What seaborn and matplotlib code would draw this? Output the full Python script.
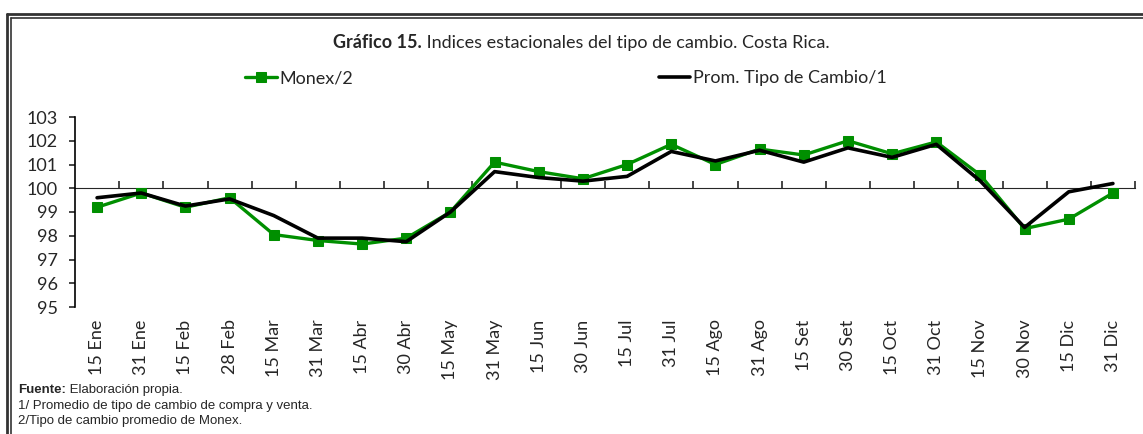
import matplotlib
matplotlib.use("Agg")
import matplotlib.pyplot as plt
from matplotlib.lines import Line2D
import numpy as np
import pandas as pd
import seaborn as sns

fechas = ["15 Ene", "31 Ene", "15 Feb", "28 Feb", "15 Mar", "31 Mar", "15 Abr", "30 Abr",
          "15 May", "31 May", "15 Jun", "30 Jun", "15 Jul", "31 Jul", "15 Ago", "31 Ago",
          "15 Set", "30 Set", "15 Oct", "31 Oct", "15 Nov", "30 Nov", "15 Dic", "31 Dic"]
monex = [99.2, 99.8, 99.2, 99.6, 98.05, 97.8, 97.65, 97.9, 99.0, 101.1, 100.7, 100.4,
         101.0, 101.85, 101.0, 101.65, 101.4, 102.0, 101.45, 101.95, 100.55, 98.3, 98.7, 99.8]
prom_tc = [99.6, 99.8, 99.25, 99.55, 98.85, 97.9, 97.9, 97.75, 99.0, 100.7, 100.45, 100.3,
           100.5, 101.55, 101.15, 101.6, 101.1, 101.7, 101.3, 101.85, 100.3, 98.35, 99.85, 100.2]
yticks = [95, 96, 97, 98, 99, 100, 101, 102, 103]

verde = "#008f00"

df = pd.DataFrame({"pos": np.arange(len(fechas)), "fecha": fechas,
                   "Monex/2": monex, "Prom. Tipo de Cambio/1": prom_tc})

sns.set_style("white")
plt.rcParams["font.family"] = ["Lato", "DejaVu Sans"]

fig = plt.figure(figsize=(11.43, 4.34), dpi=100)
W, H = 1143, 434
ax = fig.add_axes([75 / W, 1 - 307 / H, (1135 - 75) / W, (307 - 117) / H])

sns.lineplot(data=df, x="pos", y="Monex/2", ax=ax, color=verde, lw=2.4,
             marker="s", markersize=7, markeredgecolor=verde, label="Monex/2")
sns.lineplot(data=df, x="pos", y="Prom. Tipo de Cambio/1", ax=ax, color="black", lw=2.6,
             label="Prom. Tipo de Cambio/1")

ax.set_xlim(-0.5, len(fechas) - 0.5)
ax.set_ylim(yticks[0], yticks[-1])
ax.set_yticks(yticks)
ax.set_xticks(df["pos"])
ax.set_xticklabels(fechas, rotation=90, fontsize=13)
ax.tick_params(axis="x", length=0, pad=9)
ax.tick_params(axis="y", direction="out", length=4.5, width=1.2, left=True, labelsize=13, pad=8)
ax.set_xlabel("")
ax.set_ylabel("")
for s in ["top", "right", "bottom"]:
    ax.spines[s].set_visible(False)
ax.spines["left"].set_linewidth(1.2)
ax.spines["left"].set_color("black")

# linea de 100 con marcas entre categorias
sec = ax.secondary_xaxis((100 - yticks[0]) / (yticks[-1] - yticks[0]))
sec.set_xticks(np.arange(len(fechas)) + 0.5)
sec.set_xticklabels([])
sec.tick_params(direction="out", length=5, width=1.2)
sec.spines["bottom"].set_linewidth(1.5)
sec.spines["bottom"].set_color("#222222")
ax.set_zorder(2)

ax.get_legend().remove()
h, l = ax.get_legend_handles_labels()
fig.legend(h, l, loc="center", bbox_to_anchor=(566 / W, 1 - 78 / H), ncol=2, frameon=False,
           fontsize=13, handlelength=1.75, handletextpad=0.15, columnspacing=16.9)

t1 = fig.text(333 / W, 1 - 43 / H, "Gráfico 15.", fontsize=13, fontweight="bold", va="center")
ax.annotate(" Indices estacionales del tipo de cambio. Costa Rica.", xy=(1, 0.5),
            xycoords=t1, va="center", fontsize=13, annotation_clip=False)

nota = dict(fontsize=9.5, family=["Liberation Sans", "DejaVu Sans"], va="center")
f1 = fig.text(18 / W, 1 - 390 / H, "Fuente:", fontweight="bold", **nota)
ax.annotate(" Elaboración propia.", xy=(1, 0.5), xycoords=f1, annotation_clip=False, **nota)
fig.text(18 / W, 1 - 406 / H, "1/ Promedio de tipo de cambio de compra y venta.", **nota)
fig.text(18 / W, 1 - 421 / H, "2/Tipo de cambio promedio de Monex.", **nota)

# marco doble
for off, lw in [(0, 2.0), (4, 1.2)]:
    fig.add_artist(Line2D([(7 + off) / W, 1], [1 - (14 + off) / H] * 2, color="#333333", lw=lw))
    fig.add_artist(Line2D([(7 + off) / W] * 2, [0, 1 - (14 + off) / H], color="#333333", lw=lw))

fig.savefig("out.png", dpi=100)
